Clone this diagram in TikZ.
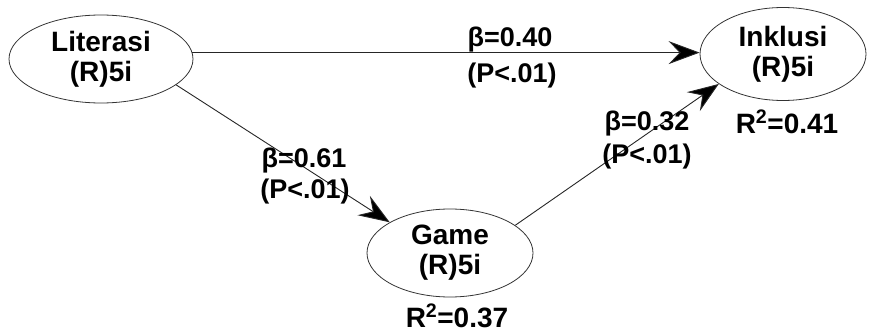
\documentclass[tikz,border=0pt]{standalone}
\usepackage{fontspec}
\setmainfont{Liberation Sans}
\usetikzlibrary{arrows.meta,shapes.geometric}
\begin{document}
\begin{tikzpicture}[x=1pt,y=-1pt,
  lv/.style={ellipse,draw=black!80,line width=0.8pt,inner sep=0pt,font=\bfseries\fontsize{28}{30}\selectfont,align=center},
  txt/.style={font=\bfseries\fontsize{27}{30}\selectfont,anchor=base,inner sep=0pt},
  rsq/.style={txt,font=\bfseries\fontsize{28}{30}\selectfont,text depth=0pt},
  conn/.style={draw=black!85,line width=0.9pt,-{Stealth[length=31pt,width=23pt,inset=11pt,fill=black]}}]
\useasboundingbox (0,0) rectangle (869,334);
\node[lv,minimum width=184pt,minimum height=88pt] (lit) at (101,59) {Literasi\\(R)5i};
\node[lv,minimum width=166pt,minimum height=93pt] (ink) at (783,54) {Inklusi\\(R)5i};
\node[lv,minimum width=166pt,minimum height=88pt] (game) at (450,253) {Game\\(R)5i};
\draw[conn] (lit.4) -- (lit.4 -| ink.west);
\draw[conn] (lit.-19) -- (game.153);
\draw[conn] (game.23) -- (ink.205);
\node[txt] (b1) at (510,47) {β=0.40};
\node[txt] (p1) at (512,83) {(P<.01)};
\node[txt] (b2) at (304,167) {β=0.61};
\node[txt] (p2) at (305,198) {(P<.01)};
\node[txt] (b3) at (647,130) {β=0.32};
\node[txt] (p3) at (647,163) {(P<.01)};
\node[rsq] (r1) at (787,133) {R\textsuperscript{2}=0.41};
\node[rsq] (r2) at (457,327) {R\textsuperscript{2}=0.37};
\end{tikzpicture}
\end{document}
